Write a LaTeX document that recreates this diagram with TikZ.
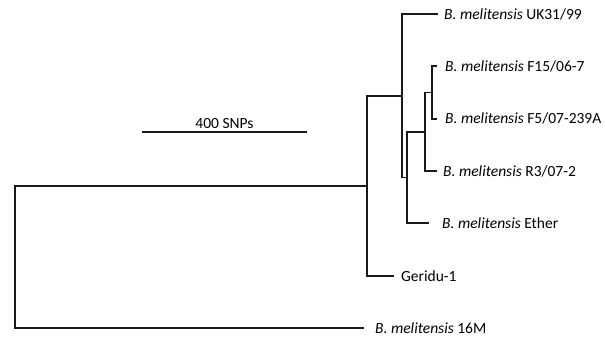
\documentclass[tikz,border=0pt]{standalone}
\usepackage{fontspec}
\setmainfont{Carlito}
\usetikzlibrary{positioning}

\begin{document}
\begin{tikzpicture}[
            x=1pt, y=-1pt,
            node distance=6pt,
            branch/.style={line width=1.7pt, draw=black!90, line join=miter},
            taxon/.style={inner sep=0pt, anchor=west, font=\fontsize{15.5}{18}\selectfont},
            scalebar/.style={line width=1.7pt, draw=black!90}
            ]

            \useasboundingbox (0,0) rectangle (605,340);

            % Internal nodes
            \coordinate (root) at (15,257);
            \coordinate (nE) at (367,185.7);
            \coordinate (nA) at (402,95.8);
            \coordinate (nB) at (407,177.5);
            \coordinate (nC) at (425,131.8);
            \coordinate (nD) at (432,92.5);

            % Tips
            \coordinate (tUK) at (438,14);
            \coordinate (tF15) at (437,66.3);
            \coordinate (tF5) at (437,118.7);
            \coordinate (tR3) at (437,171);
            \coordinate (tEther) at (429,223.3);
            \coordinate (tGeridu) at (394,275.7);
            \coordinate (t16M) at (364,328);

            % Labels
            \node[taxon, right=6pt of tUK] (uk) {\textit{B. melitensis} UK31/99};
            \node[taxon, right=8pt of tF15] (f15) {\textit{B. melitensis} F15/06-7};
            \node[taxon, right=8pt of tF5] (f5) {\textit{B. melitensis} F5/07-239A};
            \node[taxon, right=6pt of tR3] (r3) {\textit{B. melitensis} R3/07-2};
            \node[taxon, right=13pt of tEther] (ether) {\textit{B. melitensis} Ether};
            \node[taxon, right=7pt of tGeridu] (geridu) {Geridu-1};
            \node[taxon, right=11pt of t16M] (m16) {\textit{B. melitensis} 16M};

            % Branches
            \draw[branch] (root) |- (nE);
            \draw[branch] (root) |- (t16M);
            \draw[branch] (nE) |- (nA);
            \draw[branch] (nE) |- (tGeridu);
            \draw[branch] (nA) |- (tUK);
            \draw[branch] (nA) |- (nB);
            \draw[branch] (nB) |- (nC);
            \draw[branch] (nB) |- (tEther);
            \draw[branch] (nC) |- (nD);
            \draw[branch] (nC) |- (tR3);
            \draw[branch] (nD) |- (tF15);
            \draw[branch] (nD) |- (tF5);

            % Scale bar
            \coordinate (barL) at (142,132);
            \coordinate (barR) at (307,132);
            \draw[scalebar] (barL) -- node[above=3pt, inner sep=0pt, font=\fontsize{15.5}{18}\selectfont] (barlabel) {400 SNPs} (barR);

        \end{tikzpicture}
\end{document}
